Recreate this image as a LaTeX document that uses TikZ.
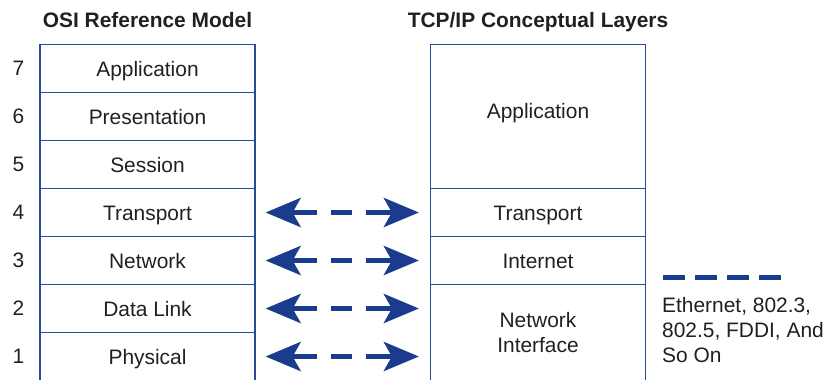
\documentclass[tikz,border=0pt]{standalone}
\usepackage{fontspec}
\setmainfont{Liberation Sans}
\usepackage{tikz}
\usetikzlibrary{arrows.meta,positioning,calc}
\definecolor{osiBlue}{HTML}{2A4A9A}
\definecolor{arrBlue}{HTML}{1B3C8C}
\definecolor{txtGray}{HTML}{231F20}
\newcommand{\lyrfont}{\fontsize{21}{25}\selectfont}

\begin{document}
\begin{tikzpicture}[x=1bp,y=-1bp,every node/.style={font=\lyrfont,text=txtGray},
  layer/.style={draw=osiBlue,line width=1.2bp,minimum width=215bp,minimum height=48bp,inner sep=0pt,
    text height=15bp,text depth=0bp},
  title/.style={font=\lyrfont\bfseries,anchor=base},
  dblarrow/.style={arrBlue,line width=5bp,{Stealth[length=35bp,width=29bp,inset=8bp]}-{Stealth[length=35bp,width=29bp,inset=8bp]},
    shorten <=10bp,shorten >=11bp,dash pattern=on 26bp off 14bp on 21bp off 14bp on 60bp}]
  \useasboundingbox (0,0) rectangle (830,379);
  % titles
  \node[title] (osiT) at (147.5,27) {OSI Reference Model};
  \node[title] (tcpT) at (538,27) {TCP/IP Conceptual Layers};
  % OSI stack
  \foreach \n/\name [count=\k from 0] in {7/Application,6/Presentation,5/Session,4/Transport,3/Network,2/Data Link,1/Physical}{
    \node[layer] (o\n) at (147.5,{68.5+48*\k}) {\name};
    \node[left=15bp of o\n,inner sep=0pt] (n\n) {\n};
  }
  % TCP/IP stack
  \node[layer,minimum height=144bp] (tApp) at (538,116.5) {};
  \node[text height=15bp,text depth=0bp] (tAppL) at ([yshift=6bp]tApp.center) {Application};
  \node[layer] (t4) at (538,212.5) {Transport};
  \node[layer] (t3) at (538,260.5) {Internet};
  \node[layer,minimum height=96bp,align=center,text height={},text depth={}] (tNI) at (538,332.5) {Network\\Interface};
  % peer arrows
  \foreach \r/\t in {4/t4,3/t3,2/tNI,1/tNI}
    \draw[dblarrow] (o\r.east) -- (o\r.east -| \t.west);
  % legend
  \coordinate (dashL) at (663,277);
  \coordinate (dashR) at (781,277);
  \draw[arrBlue,line width=5bp,dash pattern=on 22bp off 10bp] (dashL) -- (dashR);
  \node[anchor=north west,align=left,inner sep=0pt] (eth) at (662,297) {Ethernet, 802.3,\\802.5, FDDI, And\\So On};
\end{tikzpicture}
\end{document}
